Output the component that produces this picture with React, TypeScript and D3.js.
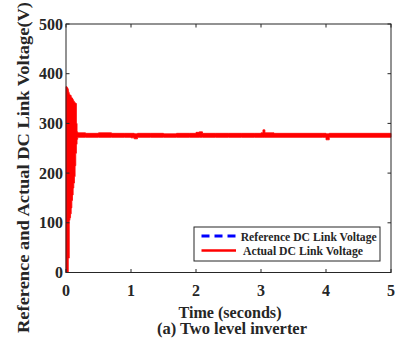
import React, { useEffect, useRef } from "react";
import * as d3 from "d3";

// ---- data ----
const xTicks = [0, 1, 2, 3, 4, 5];
const yTicks = [0, 100, 200, 300, 400, 500];

// Actual DC link voltage: envelope (max / min) of the fast oscillating signal
const sigTime = [0, 0.005, 0.01, 0.02, 0.03, 0.035, 0.04, 0.05, 0.06, 0.07, 0.08, 0.09, 0.1, 0.11, 0.12, 0.13, 0.14, 0.15, 0.16, 0.17, 0.18,
  0.3, 0.5, 0.7, 0.9, 1.0, 1.05, 1.1, 1.3, 1.5, 1.7, 1.9, 2.0, 2.05, 2.1, 2.3, 2.5, 2.7, 2.9, 3.0, 3.03, 3.06, 3.2, 3.4, 3.6, 3.8, 3.95, 4.0, 4.05, 4.2, 4.4, 4.6, 4.8, 5.0];
const sigMax = [374, 374, 373, 371, 369, 366, 362, 358, 357, 356, 352, 351, 349, 346, 344, 342, 341, 340, 300, 283, 281,
  280, 281, 280, 280, 280, 279, 280, 280, 279, 280, 280, 282, 283, 280, 280, 280, 280, 280, 281, 287, 281, 280, 280, 280, 280, 280, 279, 280, 280, 280, 280, 280, 280];
const sigMin = [0, 0, 0, 0, 0, 29, 29, 105, 110, 118, 130, 145, 156, 170, 180, 193, 215, 240, 258, 268, 272,
  272, 272, 272, 272, 271, 269, 272, 272, 272, 272, 272, 272, 272, 272, 272, 272, 272, 272, 272, 272, 272, 272, 272, 272, 272, 272, 267, 272, 272, 272, 272, 272, 272];

// Reference DC link voltage
const refTime = [0, 5];
const refValue = [275, 275];

const legendLabels = ["Reference DC Link Voltage", "Actual DC Link Voltage"];

export default function App() {
  const ref = useRef<SVGSVGElement | null>(null);

  useEffect(() => {
    document.body.style.margin = "0";
    const svg = d3.select(ref.current);
    svg.selectAll("*").remove();

    const L = 66, R = 391, T = 24, B = 272.5;
    const x = d3.scaleLinear().domain([0, 5]).range([L, R]);
    const y = d3.scaleLinear().domain([0, 500]).range([B, T]);
    const axisColor = "#262626";
    const font = "'Liberation Serif', 'Times New Roman', serif";

    svg.append("rect").attr("width", 395).attr("height", 345).attr("fill", "#fff");

    // reference (blue dashed) under the actual signal
    const refData = refTime.map((t, i) => [t, refValue[i]] as [number, number]);
    svg.append("path")
      .attr("d", d3.line()(refData.map(([t, v]) => [x(t), y(v)]))!)
      .attr("fill", "none").attr("stroke", "#0000ff").attr("stroke-width", 1.5)
      .attr("stroke-dasharray", "3,10");

    // actual signal band
    const idx = sigTime.map((_, i) => i);
    const area = d3.area<number>()
      .x((i) => x(sigTime[i]))
      .y0((i) => y(sigMin[i]))
      .y1((i) => y(sigMax[i]))
      .curve(d3.curveStepAfter);
    svg.append("path").attr("d", area(idx)!).attr("fill", "#ff0000")
      .attr("stroke", "#ff0000").attr("stroke-width", 0.8);

    // box
    svg.append("rect").attr("x", L).attr("y", T).attr("width", R - L).attr("height", B - T)
      .attr("fill", "none").attr("stroke", axisColor).attr("stroke-width", 1);

    const tk = 3.5;
    xTicks.forEach((t) => {
      svg.append("line").attr("x1", x(t)).attr("x2", x(t)).attr("y1", B).attr("y2", B - tk).attr("stroke", axisColor);
      svg.append("line").attr("x1", x(t)).attr("x2", x(t)).attr("y1", T).attr("y2", T + tk).attr("stroke", axisColor);
      svg.append("text").attr("x", x(t)).attr("y", 295.5).attr("text-anchor", "middle")
        .attr("font-family", font).attr("font-weight", "bold").attr("font-size", 16).attr("fill", axisColor)
        .text(String(t));
    });
    yTicks.forEach((v) => {
      svg.append("line").attr("x1", L).attr("x2", L + tk).attr("y1", y(v)).attr("y2", y(v)).attr("stroke", axisColor);
      svg.append("line").attr("x1", R).attr("x2", R - tk).attr("y1", y(v)).attr("y2", y(v)).attr("stroke", axisColor);
      svg.append("text").attr("x", 63).attr("y", y(v) + 5.5).attr("text-anchor", "end")
        .attr("font-family", font).attr("font-weight", "bold").attr("font-size", 16).attr("fill", axisColor)
        .text(String(v));
    });

    // axis titles
    svg.append("text").attr("transform", "translate(29,167.5) rotate(-90)").attr("text-anchor", "middle")
      .attr("font-family", font).attr("font-weight", "bold").attr("font-size", 16).attr("fill", axisColor)
      .attr("textLength", 331).attr("lengthAdjust", "spacingAndGlyphs")
      .text("Reference and Actual DC Link Voltage(V)");
    svg.append("text").attr("x", 230).attr("y", 318).attr("text-anchor", "middle")
      .attr("font-family", font).attr("font-weight", "bold").attr("font-size", 16).attr("fill", axisColor)
      .attr("textLength", 103).attr("lengthAdjust", "spacingAndGlyphs")
      .text("Time (seconds)");
    svg.append("text").attr("x", 232).attr("y", 334).attr("text-anchor", "middle")
      .attr("font-family", font).attr("font-weight", "bold").attr("font-size", 16).attr("fill", axisColor)
      .attr("textLength", 150).attr("lengthAdjust", "spacingAndGlyphs")
      .text("(a) Two level inverter");

    // legend
    const lg = svg.append("g");
    lg.append("rect").attr("x", 194).attr("y", 227).attr("width", 186).attr("height", 34)
      .attr("fill", "#fff").attr("stroke", axisColor).attr("stroke-width", 1);
    lg.append("line").attr("x1", 201.5).attr("x2", 236).attr("y1", 236).attr("y2", 236)
      .attr("stroke", "#0000ff").attr("stroke-width", 3).attr("stroke-dasharray", "8,5");
    lg.append("line").attr("x1", 201.5).attr("x2", 236).attr("y1", 250.5).attr("y2", 250.5)
      .attr("stroke", "#ff0000").attr("stroke-width", 2.5);
    lg.append("text").attr("x", 240.7).attr("y", 240.5)
      .attr("font-family", font).attr("font-weight", "bold").attr("font-size", 11.5).attr("fill", axisColor)
      .attr("textLength", 136).attr("lengthAdjust", "spacingAndGlyphs")
      .text(legendLabels[0]);
    lg.append("text").attr("x", 243).attr("y", 255)
      .attr("font-family", font).attr("font-weight", "bold").attr("font-size", 11.5).attr("fill", axisColor)
      .attr("textLength", 120).attr("lengthAdjust", "spacingAndGlyphs")
      .text(legendLabels[1]);
  }, []);

  return <svg ref={ref} width={395} height={345} style={{ display: "block" }} />;
}
